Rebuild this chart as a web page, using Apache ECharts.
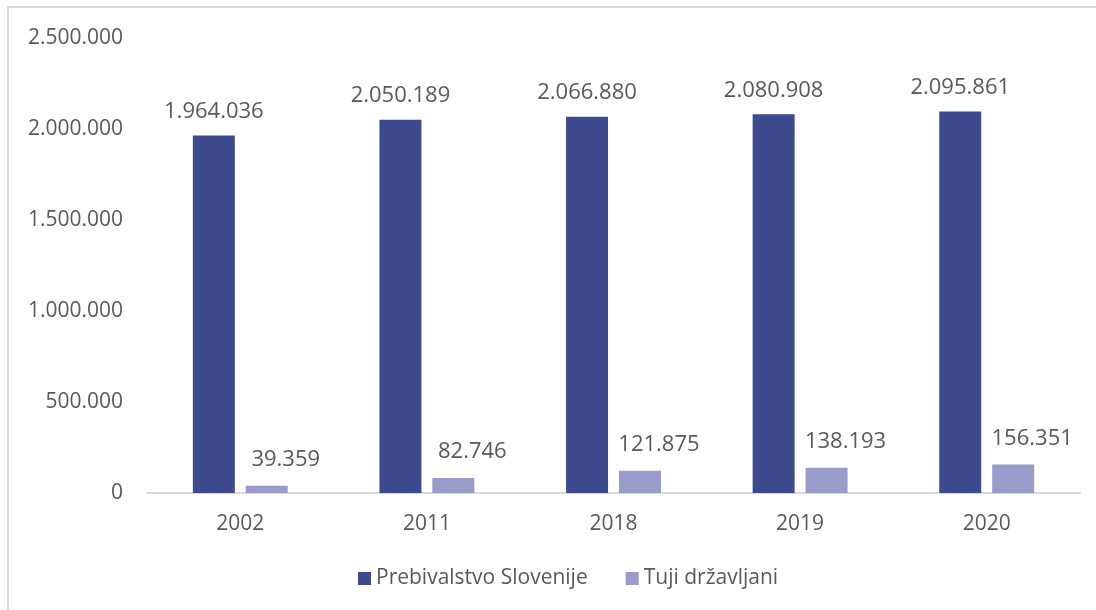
<!DOCTYPE html>
<html lang="sl">
<head>
    <meta charset="UTF-8">
    <title>Prebivalstvo</title>
    <script src="https://cdn.jsdelivr.net/npm/echarts@6/dist/echarts.min.js"></script>
    <style>
        *{
            padding:0;
            margin:0;
        }
        html,body{
            height:100%;
            background:#fff;
        }
        #main{
            width:1096px;
            height:610px;
        }
    </style>
</head>
<body>
<div id="main"></div>
<script>
    var leta = ['2002', '2011', '2018', '2019', '2020'];
    var prebivalstvo = [1964036, 2050189, 2066880, 2080908, 2095861];
    var tujci = [39359, 82746, 121875, 138193, 156351];
    var imena = ['Prebivalstvo Slovenije', 'Tuji državljani'];

    // 1.964.036 style
    function fmt(v){
        return String(v).replace(/\B(?=(\d{3})+(?!\d))/g, '.');
    }

    var pisava = '"Open Sans", "Noto Sans", sans-serif';
    var siva = '#595959';

    var myChart = echarts.init(document.getElementById('main'));
    var option = {
        animation:false,
        textStyle:{ fontFamily:pisava },
        graphic:[{
            type:'rect',
            shape:{ x:8, y:7, width:1100, height:620 },
            style:{ fill:'none', stroke:'#d9d9d9', lineWidth:2 },
            silent:true
        }],
        legend:{
            data:imena,
            bottom:16,
            left:353,
            itemWidth:13,
            itemHeight:13,
            itemGap:38,
            icon:'rect',
            textStyle:{ color:siva, fontSize:21, fontFamily:pisava }
        },
        grid:{
            left:147,
            right:16,
            top:38,
            bottom:117
        },
        xAxis:{
            type:'category',
            data:leta,
            axisLine:{ lineStyle:{ color:'#d9d9d9', width:2 } },
            axisTick:{ show:false },
            axisLabel:{ color:siva, fontSize:21, margin:21, fontFamily:pisava }
        },
        yAxis:{
            type:'value',
            min:0,
            max:2500000,
            interval:500000,
            splitLine:{ show:false },
            axisLine:{ show:false },
            axisTick:{ show:false },
            axisLabel:{
                color:siva,
                fontSize:21,
                margin:24,
                fontFamily:pisava,
                formatter:function(v){ return fmt(v); }
            }
        },
        series:[
            {
                name:imena[0],
                type:'bar',
                data:prebivalstvo,
                barWidth:42,
                barGap:'26%',
                itemStyle:{ color:'#3e4a8e' },
                label:{
                    show:true,
                    position:'top',
                    distance:13,
                    color:siva,
                    fontSize:22,
                    fontFamily:pisava,
                    formatter:function(p){ return fmt(p.value); }
                }
            },
            {
                name:imena[1],
                type:'bar',
                data:tujci,
                barWidth:42,
                itemStyle:{ color:'#999bcb' },
                label:{
                    show:true,
                    position:'top',
                    distance:15,
                    offset:[19, 0],
                    color:siva,
                    fontSize:22,
                    fontFamily:pisava,
                    formatter:function(p){ return fmt(p.value); }
                }
            }
        ]
    };
    myChart.setOption(option);
</script>
</body>
</html>
